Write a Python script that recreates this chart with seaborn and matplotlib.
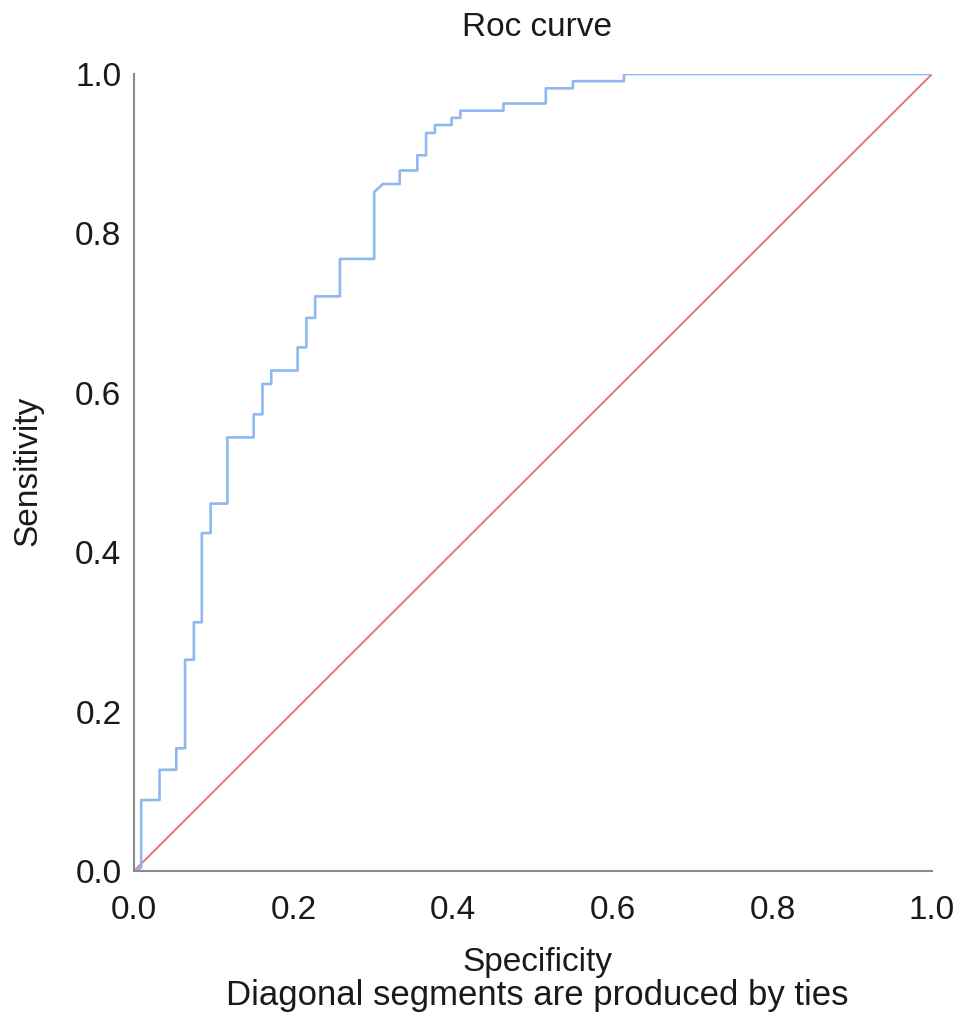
import matplotlib
matplotlib.use("Agg")
import matplotlib.pyplot as plt
import seaborn as sns
import pandas as pd

# ROC curve vertices (x = 1 - specificity axis, y = sensitivity)
roc_x = [0.000, 0.009, 0.009, 0.032, 0.032, 0.053, 0.053, 0.064, 0.064, 0.075,
         0.075, 0.085, 0.085, 0.096, 0.096, 0.117, 0.117, 0.150, 0.150, 0.161,
         0.161, 0.172, 0.172, 0.205, 0.205, 0.216, 0.216, 0.227, 0.227, 0.258,
         0.258, 0.301, 0.301, 0.312, 0.333, 0.333, 0.355, 0.355, 0.366, 0.366,
         0.377, 0.377, 0.398, 0.398, 0.409, 0.409, 0.463, 0.463, 0.516, 0.516,
         0.550, 0.550, 0.614, 0.614, 1.000]
roc_y = [0.000, 0.004, 0.089, 0.089, 0.127, 0.127, 0.154, 0.154, 0.265, 0.265,
         0.312, 0.312, 0.424, 0.424, 0.461, 0.461, 0.544, 0.544, 0.573, 0.573,
         0.611, 0.611, 0.628, 0.628, 0.657, 0.657, 0.694, 0.694, 0.721, 0.721,
         0.768, 0.768, 0.852, 0.862, 0.862, 0.879, 0.879, 0.898, 0.898, 0.926,
         0.926, 0.936, 0.936, 0.945, 0.945, 0.954, 0.954, 0.963, 0.963, 0.982,
         0.982, 0.991, 0.991, 1.000, 1.000]

# chance line
ref_x = [0.0, 1.0]
ref_y = [0.0, 1.0]

ticks = [0.0, 0.2, 0.4, 0.6, 0.8, 1.0]
tick_labels = ["0.0", "0.2", "0.4", "0.6", "0.8", "1.0"]

roc_df = pd.DataFrame({"x": roc_x, "y": roc_y})
ref_df = pd.DataFrame({"x": ref_x, "y": ref_y})

sns.set_style("white")
plt.rcParams["font.family"] = ["Liberation Sans", "DejaVu Sans"]

fig = plt.figure(figsize=(9.69, 10.29), dpi=100)
ax = fig.add_axes([134 / 969, 1 - 871 / 1029, (932 - 134) / 969, (871 - 74) / 1029])

sns.lineplot(data=ref_df, x="x", y="y", ax=ax, color="#e8766c", linewidth=1.4,
             sort=False, estimator=None)
sns.lineplot(data=roc_df, x="x", y="y", ax=ax, color="#8fb8ef", linewidth=1.9,
             sort=False, estimator=None)

ax.set_xlim(0, 1)
ax.set_ylim(0, 1)
ax.set_xticks(ticks)
ax.set_xticklabels(tick_labels)
ax.set_yticks(ticks)
ax.set_yticklabels(tick_labels)
ax.tick_params(axis="both", length=0, labelsize=24, colors="#1a1a1a")
ax.tick_params(axis="x", pad=17)
ax.tick_params(axis="y", pad=9)
ax.set_xlabel("")
ax.set_ylabel("")

for side in ["top", "right"]:
    ax.spines[side].set_visible(False)
for side in ["left", "bottom"]:
    ax.spines[side].set_color("#8a8a8a")
    ax.spines[side].set_linewidth(1.5)

fig.text(537 / 969, 1 - 27 / 1029, "Roc curve", ha="center", va="center",
         fontsize=24, color="#1a1a1a")
fig.text(28 / 969, 1 - 471 / 1029, "Sensitivity", ha="center", va="center",
         rotation=90, fontsize=24, color="#1a1a1a")
fig.text(537 / 969, 1 - 963 / 1029, "Specificity", ha="center", va="center",
         fontsize=24, color="#1a1a1a")
fig.text(537 / 969, 1 - 995 / 1029, "Diagonal segments are produced by ties",
         ha="center", va="center", fontsize=25, color="#1a1a1a")

fig.savefig("out.png", dpi=100)
